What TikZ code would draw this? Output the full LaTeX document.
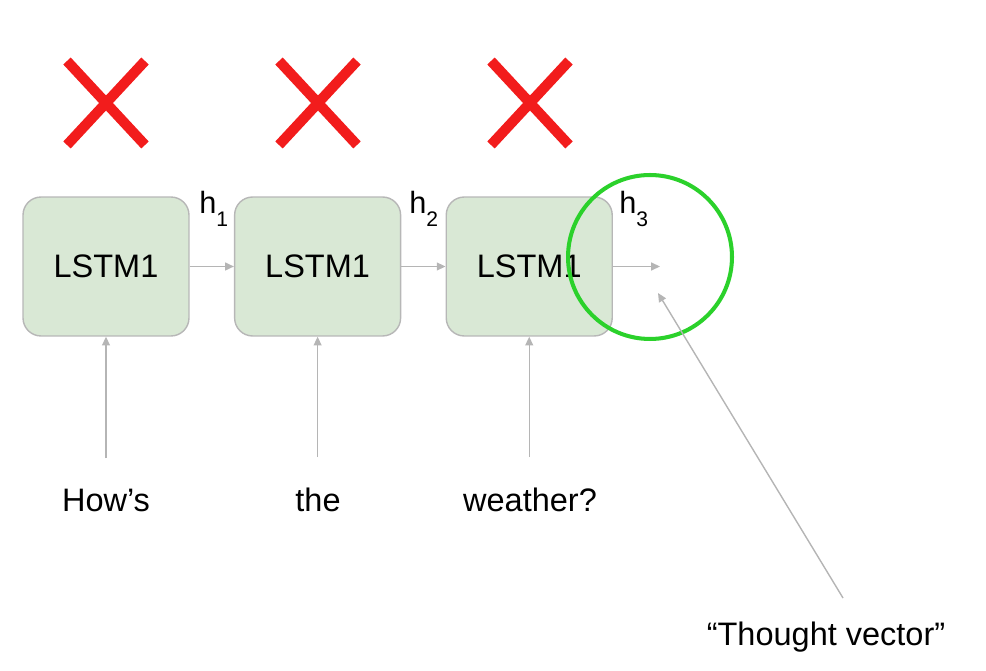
\documentclass[tikz,border=0pt]{standalone}
\usepackage{fontspec}
\setmainfont{Liberation Sans}
\definecolor{lstmFill}{HTML}{D9E8D5}
\definecolor{lstmEdge}{HTML}{B7B7B7}
\definecolor{wireGray}{HTML}{B5B5B5}
\definecolor{crossRed}{HTML}{F21C1C}
\definecolor{ringGreen}{HTML}{2BD12B}
\usetikzlibrary{arrows.meta,positioning}

\newcommand{\hvec}[1]{h\raisebox{-7pt}{\fontsize{12}{13}\selectfont #1}}

\begin{document}
\begin{tikzpicture}[x=0.02cm, y=-0.02cm,
  lstmbox/.style={draw=lstmEdge, fill=lstmFill, line width=0.8pt, rounded corners=0.36cm,
    minimum width=3.32cm, minimum height=2.78cm, font=\fontsize{18.5}{22}\selectfont},
  wire/.style={wireGray, line width=0.8pt, -{Triangle[length=5pt,width=4.5pt]}},
  wordlabel/.style={inner sep=0pt, anchor=base, font=\fontsize{18.5}{22}\selectfont},
  hlabel/.style={inner sep=0pt, anchor=base west, font=\fontsize{17.5}{20}\selectfont},
  crossline/.style={crossRed, line width=5.8pt},
  node distance=0.885cm]
  \useasboundingbox (0,0) rectangle (986,671);

  % LSTM chain
  \node[lstmbox] (box1) at (106,266.5) {LSTM1};
  \node[lstmbox, right=of box1] (box2) {LSTM1};
  \node[lstmbox, right=of box2] (box3) {LSTM1};

  \draw[wire] (box1.east) -- (box2.west);
  \draw[wire] (box2.east) -- (box3.west);
  \coordinate (hend) at (660,266.5);
  \draw[wire] (box3.east) -- (hend);

  % hidden states
  \node[hlabel] (h1) at (199,214) {\hvec{1}};
  \node[hlabel] (h2) at (409,214) {\hvec{2}};
  \node[hlabel] (h3) at (619,214) {\hvec{3}};

  % inputs and crosses
  \foreach \i/\x/\w in {1/106/How’s, 2/318/the, 3/530/weather?} {
    \node[wordlabel] (word\i) at (\x,511) {\w};
    \draw[wire, shorten <=0.6cm] (box\i.south |- word\i.north) -- (box\i.south);
    \draw[crossline] (\x-39,61) -- (\x+39,145);
    \draw[crossline] (\x-39,145) -- (\x+39,61);
  }

  % thought vector
  \draw[ringGreen, line width=2.3pt] (650,257) circle[radius=1.64cm];
  \node[wordlabel] (thought) at (826,645) {“Thought vector”};
  \coordinate (tstart) at (843,598);
  \coordinate (ttip) at (658,293);
  \draw[wire] (tstart) -- (ttip);
\end{tikzpicture}
\end{document}
